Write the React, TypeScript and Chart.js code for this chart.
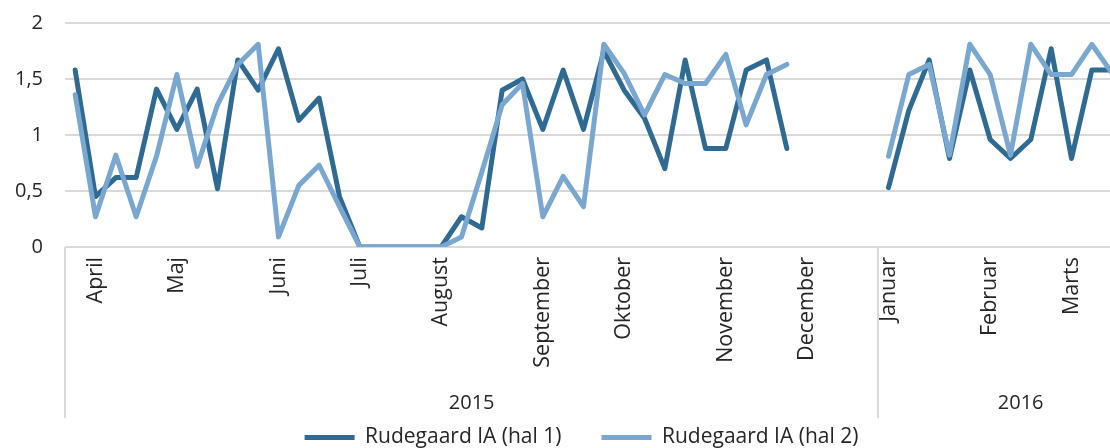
import React, { useEffect, useRef } from 'react';
import { Chart, registerables } from 'chart.js';

Chart.register(...registerables);

// ---- data ----
const weekCount = 54;
const monthNames = ['April', 'Maj', 'Juni', 'Juli', 'August', 'September', 'Oktober', 'November', 'December', 'Januar', 'Februar', 'Marts'];
const monthTickIndex = [1, 5, 10, 14, 18, 23, 27, 32, 36, 40, 45, 49];
const yearNames = ['2015', '2016'];
const yearGroupSizes = [40, 14];
const yTickValues = [0, 0.5, 1, 1.5, 2];

const hal1: (number | null)[] = [
  1.58, 0.45, 0.62, 0.62, 1.41, 1.05, 1.41, 0.52, 1.67, 1.40,
  1.77, 1.13, 1.33, 0.45, 0, 0, 0, 0, 0, 0.27,
  0.17, 1.40, 1.50, 1.05, 1.58, 1.05, 1.75, 1.40, 1.15, 0.70,
  1.67, 0.88, 0.88, 1.58, 1.67, 0.88, null, null, null, null,
  0.53, 1.22, 1.67, 0.79, 1.58, 0.96, 0.79, 0.96, 1.77, 0.79,
  1.58, 1.58, null, null,
];

const hal2: (number | null)[] = [
  1.36, 0.27, 0.82, 0.27, 0.81, 1.54, 0.72, 1.27, 1.63, 1.81,
  0.09, 0.55, 0.73, 0.36, 0, 0, 0, 0, 0, 0.09,
  0.67, 1.27, 1.46, 0.27, 0.63, 0.36, 1.81, 1.55, 1.18, 1.54,
  1.46, 1.46, 1.72, 1.09, 1.54, 1.63, null, null, null, null,
  0.81, 1.54, 1.63, 0.82, 1.81, 1.54, 0.82, 1.81, 1.54, 1.54,
  1.81, 1.55, null, null,
];

const seriesNames = ['Rudegaard IA (hal 1)', 'Rudegaard IA (hal 2)'];

// ---- style ----
const FONT_FAMILY = "'Open Sans', sans-serif";
const TEXT_COLOR = '#262626';
const GRID_COLOR = '#d9d9d9';
const DARK = '#2F6A92';
const LIGHT = '#79A7D0';

const labels: string[] = Array.from({ length: weekCount }, () => '');
monthTickIndex.forEach((idx, i) => {
  labels[idx] = monthNames[i];
});

const yearAxisPlugin = {
  id: 'yearAxis',
  afterDraw(chart: any) {
    const xs = chart.scales.x;
    const ctx = chart.ctx as CanvasRenderingContext2D;
    const half = (xs.getPixelForValue(1) - xs.getPixelForValue(0)) / 2;
    const top = chart.chartArea.bottom;
    const bottom = xs.bottom;
    ctx.save();
    ctx.strokeStyle = GRID_COLOR;
    ctx.lineWidth = 2;
    let start = 0;
    const bounds = [0];
    yearGroupSizes.forEach((n) => {
      start += n;
      bounds.push(start);
    });
    bounds.forEach((b) => {
      const px = Math.round(xs.getPixelForValue(b) - half);
      ctx.beginPath();
      ctx.moveTo(px, top);
      ctx.lineTo(px, bottom);
      ctx.stroke();
    });
    ctx.fillStyle = TEXT_COLOR;
    ctx.font = `20px ${FONT_FAMILY}`;
    ctx.textAlign = 'center';
    ctx.textBaseline = 'middle';
    yearNames.forEach((name, i) => {
      const l = xs.getPixelForValue(bounds[i]) - half;
      const r = xs.getPixelForValue(bounds[i + 1]) - half;
      ctx.fillText(name, (l + r) / 2, bottom - 15);
    });
    ctx.restore();
  },
};

const legendShiftPlugin = {
  id: 'legendShift',
  afterLayout(chart: any) {
    if (chart.legend) {
      chart.legend.top -= 31;
    }
  },
};

export default function App() {
  const canvasRef = useRef<HTMLCanvasElement | null>(null);

  useEffect(() => {
    if (!canvasRef.current) return;
    const font = { family: FONT_FAMILY, size: 20 };
    const legendFont = { family: FONT_FAMILY, size: 21 };
    const monthFont = { family: FONT_FAMILY, size: 21.5 };
    const chart = new Chart(canvasRef.current, {
      type: 'line',
      data: {
        labels,
        datasets: [
          {
            label: seriesNames[0],
            data: hal1,
            borderColor: DARK,
            backgroundColor: DARK,
            borderWidth: 5,
            borderCapStyle: 'round',
            borderJoinStyle: 'round',
            pointRadius: 0,
            tension: 0,
            spanGaps: false,
            order: 1,
          },
          {
            label: seriesNames[1],
            data: hal2,
            borderColor: LIGHT,
            backgroundColor: LIGHT,
            borderWidth: 5,
            borderCapStyle: 'round',
            borderJoinStyle: 'round',
            pointRadius: 0,
            tension: 0,
            spanGaps: false,
            order: 0,
          },
        ],
      },
      options: {
        responsive: false,
        animation: false,
        devicePixelRatio: 1,
        layout: { padding: { top: 23, right: 0, left: 0, bottom: 0 } },
        plugins: {
          legend: {
            position: 'bottom',
            maxHeight: 30,
            labels: {
              usePointStyle: true,
              pointStyle: 'line',
              pointStyleWidth: 50,
              padding: 40,
              font: legendFont,
              color: TEXT_COLOR,
              sort: (a: any, b: any) => a.datasetIndex - b.datasetIndex,
            },
          },
          tooltip: { enabled: false },
        },
        scales: {
          x: {
            type: 'category',
            offset: true,
            grid: { display: false, drawTicks: false },
            border: { display: false },
            ticks: {
              autoSkip: false,
              maxRotation: 90,
              minRotation: 90,
              padding: 10,
              font: monthFont,
              color: TEXT_COLOR,
            },
            afterFit: (s: any) => {
              s.height = 171;
              s.paddingLeft = 0;
              s.paddingRight = 0;
            },
          },
          y: {
            min: 0,
            max: 2,
            afterBuildTicks: (s: any) => {
              s.ticks = yTickValues.map((v) => ({ value: v }));
            },
            ticks: {
              padding: 22,
              font,
              color: TEXT_COLOR,
              callback: (v: any) => String(v).replace('.', ','),
            },
            grid: { color: GRID_COLOR, lineWidth: 2, drawTicks: false },
            border: { display: false },
            afterFit: (s: any) => {
              s.width = 65;
              s.paddingTop = 0;
              s.paddingBottom = 0;
            },
          },
        },
      },
      plugins: [yearAxisPlugin, legendShiftPlugin],
    } as any);
    return () => chart.destroy();
  }, []);

  return (
    <div
      style={{
        position: 'fixed',
        left: 0,
        top: 0,
        width: 1110,
        height: 448,
        overflow: 'hidden',
        background: '#fff',
      }}
    >
      <canvas ref={canvasRef} width={1163} height={448} style={{ display: 'block' }} />
    </div>
  );
}
